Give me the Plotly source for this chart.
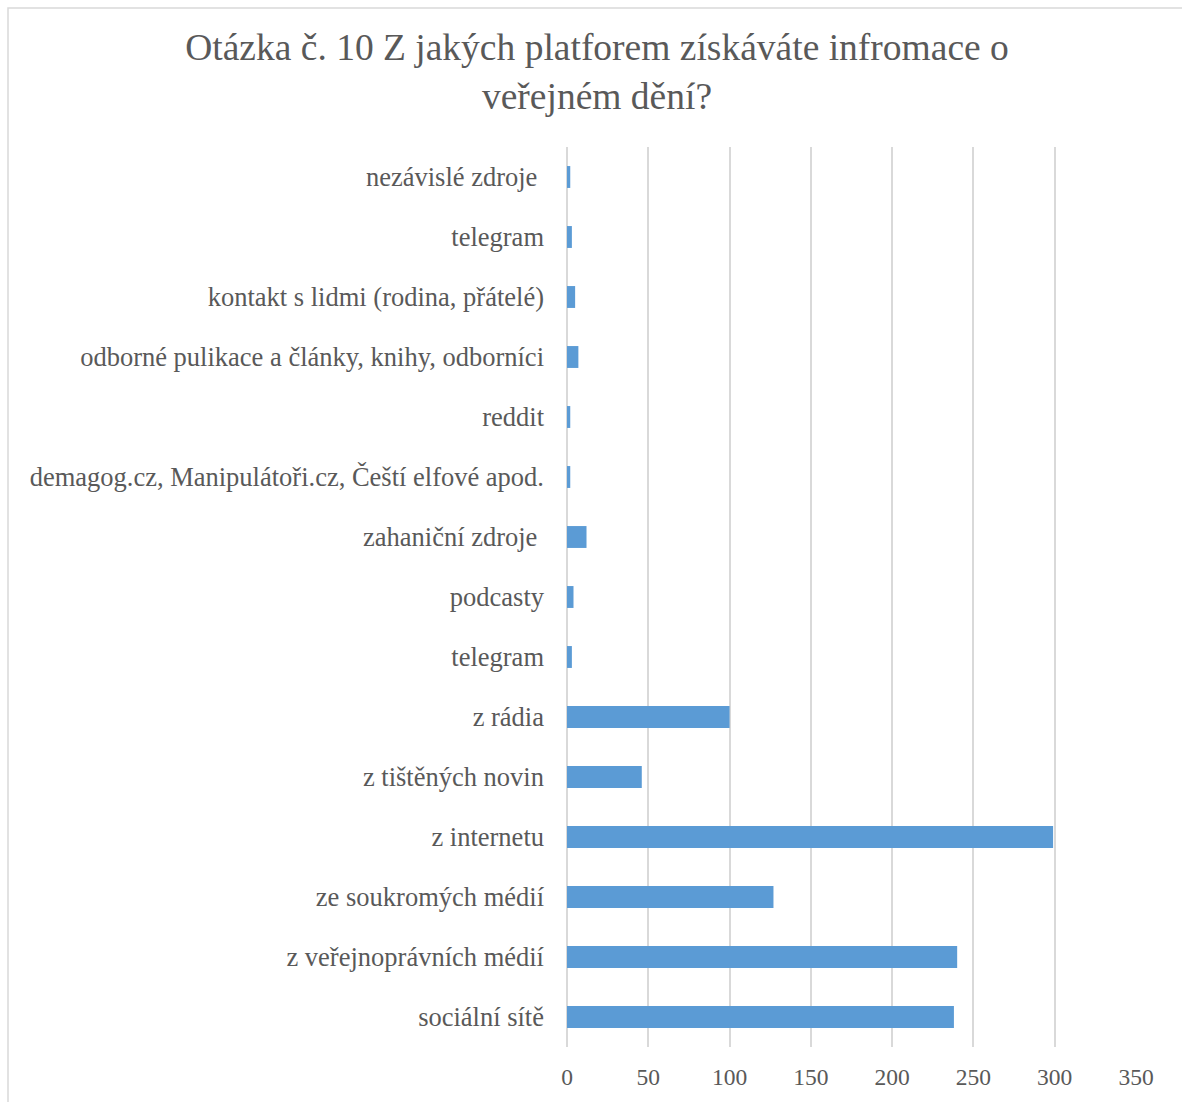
import plotly.graph_objects as go

# Survey answers, listed bottom-to-top as they appear on the chart
categories = [
    "sociální sítě",
    "z veřejnoprávních médií",
    "ze soukromých médií",
    "z internetu",
    "z tištěných novin",
    "z rádia",
    "telegram",
    "podcasty",
    "zahaniční zdroje\u00a0",
    "demagog.cz, Manipulátoři.cz, Čeští elfové apod.",
    "reddit",
    "odborné pulikace a články, knihy, odborníci",
    "kontakt s lidmi (rodina, přátelé)",
    "telegram",
    "nezávislé zdroje\u00a0",
]
counts = [238, 240, 127, 299, 46, 100, 3, 4, 12, 2, 2, 7, 5, 3, 2]

x_ticks = [0, 50, 100, 150, 200, 250, 300, 350]

W, H = 1182, 1102
ML, MR, MT, MB = 567, 46, 147, 51

# "telegram" appears twice, so rows are placed by index and labelled via ticktext
rows = list(range(len(categories)))

fig = go.Figure(
    go.Bar(
        x=counts,
        y=rows,
        orientation="h",
        width=0.365,
        marker=dict(color="#5B9BD5", line=dict(width=0)),
        hoverinfo="x+text",
        text=categories,
        textposition="none",
    )
)

gray_text = "#595959"
grid = "#D9D9D9"
serif = "Liberation Serif, Times New Roman, serif"

fig.update_layout(
    width=W,
    height=H,
    margin=dict(l=ML, r=MR, t=MT, b=MB, pad=0),
    paper_bgcolor="white",
    plot_bgcolor="white",
    showlegend=False,
    title=dict(
        text="Otázka č. 10 Z jakých platforem získáváte infromace o<br>veřejném dění?",
        x=597 / W,
        xanchor="center",
        y=1 - 60 / H,
        yanchor="middle",
        font=dict(family=serif, size=37.5, color=gray_text),
    ),
    font=dict(family=serif, color=gray_text),
)

fig.update_xaxes(
    range=[0, 350],
    tickvals=x_ticks,
    ticktext=[str(v) for v in x_ticks],
    showgrid=True,
    gridcolor=grid,
    gridwidth=1.5,
    zeroline=True,
    zerolinecolor=grid,
    zerolinewidth=1.5,
    showline=False,
    ticks="",
    ticklabelstandoff=13,
    tickfont=dict(size=23.5, color=gray_text),
    fixedrange=True,
)

fig.update_yaxes(
    range=[-0.5, len(categories) - 0.5],
    tickvals=rows,
    ticktext=categories,
    showgrid=False,
    zeroline=False,
    showline=False,
    ticks="",
    ticklabelstandoff=22,
    tickfont=dict(size=26.5, color=gray_text),
    fixedrange=True,
)

# Light frame around the chart area (runs off the right and bottom edges)
pw = W - ML - MR
ph = H - MT - MB
def px_x(p):
    return (p - ML) / pw
def px_y(p):
    return (H - MB - p) / ph

fig.add_shape(
    type="rect",
    xref="paper",
    yref="paper",
    x0=px_x(8),
    x1=px_x(W + 20),
    y0=px_y(H + 20),
    y1=px_y(7.5),
    line=dict(color="#D9D9D9", width=1.5),
    fillcolor="rgba(0,0,0,0)",
    layer="below",
)

fig.write_html("out.html")
